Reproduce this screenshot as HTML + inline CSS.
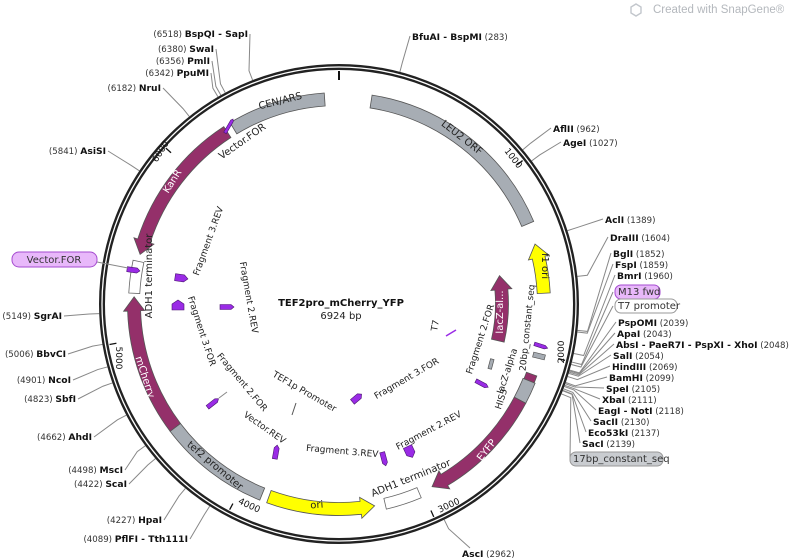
<!DOCTYPE html>
<html><head><meta charset="utf-8"><style>
html,body{margin:0;padding:0;background:#fff;}
svg{display:block;}
text{font-family:"DejaVu Sans","Liberation Sans",sans-serif;}
.en{font-size:9.2px;font-weight:bold;fill:#111;}
.nm{font-size:8.6px;font-weight:normal;fill:#333;}
.fl{font-size:10px;fill:#222;}
.il{font-size:9px;fill:#222;}
.wl{font-size:10px;fill:#fff;}
.tk{font-size:9px;fill:#111;}
</style></head><body>
<svg id="s" width="797" height="560" viewBox="0 0 797 560" xmlns="http://www.w3.org/2000/svg">
<g id="geo"></g>
<path d="M636,4 l5,3 v6 l-5,3 l-5,-3 v-6z" fill="none" stroke="#c2c6cc" stroke-width="1.4"/>
<text x="653" y="13" style="font-family:'Liberation Sans',sans-serif;font-size:11.5px;fill:#b4b8bd">Created with SnapGene®</text>

<circle cx="339" cy="304" r="237" fill="none" stroke="#222" stroke-width="6"/>
<circle cx="339" cy="304" r="237" fill="none" stroke="#fff" stroke-width="1.3"/>

<g id="feat"></g>

<g fill="#9a2be6" stroke="#4a1670" stroke-width="0.6">
<g transform="translate(229,126) rotate(-60)"><path d="M-8,-1.5 L6,-1.5 L8,0 L6,1.5 L-8,1.5Z"/></g>
<g transform="translate(133,270) rotate(8)"><path d="M-6,-2.5 L4,-2.5 L7,0 L4,2.5 L-6,2.5Z"/></g>
<g transform="translate(181,278) rotate(8)"><path d="M-6,-3.5 L3,-3.5 L7,0 L3,3.5 L-6,3.5Z"/></g>
<g transform="translate(178,305) rotate(-90)"><path d="M-5,-6 L1,-6 L5,0 L1,6 L-5,6Z"/></g>
<g transform="translate(227,307) rotate(0)"><path d="M-7,-2.5 L4,-2.5 L7,0 L4,2.5 L-7,2.5Z"/></g>
<g transform="translate(213,403) rotate(-38)"><path d="M-7,-2.2 L4,-2.2 L7,0 L4,2.2 L-7,2.2Z"/></g>
<g transform="translate(276,452) rotate(-80)"><path d="M-7,-2.5 L4,-2.5 L7,0 L4,2.5 L-7,2.5Z"/></g>
<g transform="translate(384,459) rotate(75)"><path d="M-7,-2.5 L4,-2.5 L7,0 L4,2.5 L-7,2.5Z"/></g>
<g transform="translate(410,452) rotate(65)"><path d="M-6,-4.5 L2,-4.5 L6,0 L2,4.5 L-6,4.5Z"/></g>
<g transform="translate(482,384) rotate(28)"><path d="M-7,-2 L4,-2 L7,0 L4,2 L-7,2Z"/></g>
<g transform="translate(541,346) rotate(18)"><path d="M-7,-1.8 L4,-1.8 L7,0 L4,1.8 L-7,1.8Z"/></g>
<g transform="translate(357,398) rotate(-40)"><path d="M-6,-3 L3,-3 L6,0 L3,3 L-6,3Z"/></g>
</g>
<line x1="446" y1="336" x2="456" y2="330" stroke="#9a2be6" stroke-width="1.5"/>
<line x1="219" y1="398" x2="227" y2="392" stroke="#888" stroke-width="1"/>
<line x1="296" y1="403" x2="292" y2="415" stroke="#555" stroke-width="1"/>
<g fill="#a6acb3" stroke="#555" stroke-width="0.7">
<rect x="-6" y="-2.5" width="12" height="5" transform="translate(539,356) rotate(14)"/>
<rect x="-5" y="-1.8" width="10" height="3.6" transform="translate(491,364) rotate(-75)"/>
</g>

<text class="fl" transform="translate(281,104) rotate(-14)" text-anchor="middle">CEN/ARS</text>
<text class="fl" transform="translate(460,140) rotate(38)" text-anchor="middle">LEU2 ORF</text>
<text class="fl" transform="translate(542,266) rotate(90)" text-anchor="middle">f1 ori</text>
<text class="wl" transform="translate(503,312) rotate(-90)" text-anchor="middle">lacZ-al...</text>
<text class="wl" transform="translate(489,452) rotate(-52)" text-anchor="middle">EYFP</text>
<text class="fl" transform="translate(412,481) rotate(-22)" text-anchor="middle">ADH1 terminator</text>
<text class="fl" transform="translate(317,508) rotate(-4)" text-anchor="middle">ori</text>
<text class="fl" transform="translate(213,468) rotate(40)" text-anchor="middle">tef2 promoter</text>
<text class="wl" transform="translate(142,378) rotate(72)" text-anchor="middle">mCherry</text>
<text class="fl" transform="translate(152,276) rotate(-90)" text-anchor="middle">ADH1 terminator</text>
<text class="wl" transform="translate(175,183) rotate(-58)" text-anchor="middle">KanR</text>
<text class="fl" transform="translate(244,144) rotate(-35)" text-anchor="middle">Vector.FOR</text>
<text class="il" transform="translate(211,242) rotate(-70)" text-anchor="middle">Fragment 3.REV</text>
<text class="il" transform="translate(246,298) rotate(80)" text-anchor="middle">Fragment 2.REV</text>
<text class="il" transform="translate(199,332) rotate(72)" text-anchor="middle">Fragment 3.FOR</text>
<text class="il" transform="translate(240,384) rotate(50)" text-anchor="middle">Fragment 2.FOR</text>
<text class="il" transform="translate(263,430) rotate(35)" text-anchor="middle">Vector.REV</text>
<text class="il" transform="translate(303,394) rotate(30)" text-anchor="middle">TEF1p Promoter</text>
<text class="il" transform="translate(342,454) rotate(5)" text-anchor="middle">Fragment 3.REV</text>
<text class="il" transform="translate(408,381) rotate(-30)" text-anchor="middle">Fragment 3.FOR</text>
<text class="il" transform="translate(430,433) rotate(-28)" text-anchor="middle">Fragment 2.REV</text>
<text class="il" transform="translate(438,326) rotate(-80)" text-anchor="middle">T7</text>
<text class="il" transform="translate(483,340) rotate(-72)" text-anchor="middle">Fragment 2.FOR</text>
<text class="il" transform="translate(510,372) rotate(-72)" text-anchor="middle">lacZ-alpha</text>
<text class="il" transform="translate(504,400) rotate(-72)" text-anchor="middle">HIS3</text>
<text class="il" transform="translate(530,328) rotate(-84)" text-anchor="middle">20bp_constant_seq</text>

<text class="tk" transform="translate(511,160) rotate(52)" text-anchor="middle">1000</text>
<text class="tk" transform="translate(564,352) rotate(-90)" text-anchor="middle">2000</text>
<text class="tk" transform="translate(450,508) rotate(-25)" text-anchor="middle">3000</text>
<text class="tk" transform="translate(248,508) rotate(25)" text-anchor="middle">4000</text>
<text class="tk" transform="translate(116,358) rotate(90)" text-anchor="middle">5000</text>
<text class="tk" transform="translate(163,153) rotate(-58)" text-anchor="middle">6000</text>

<text x="341" y="306" text-anchor="middle" style="font-size:10px;font-weight:bold;fill:#111">TEF2pro_mCherry_YFP</text>
<text x="341" y="319" text-anchor="middle" style="font-size:10px;fill:#222">6924 bp</text>

<text x="248" y="37" text-anchor="end"><tspan class="nm">(6518)  </tspan><tspan class="en">BspQI - SapI</tspan></text>
<text x="214" y="52" text-anchor="end"><tspan class="nm">(6380)  </tspan><tspan class="en">SwaI</tspan></text>
<text x="210" y="64" text-anchor="end"><tspan class="nm">(6356)  </tspan><tspan class="en">PmlI</tspan></text>
<text x="209" y="76" text-anchor="end"><tspan class="nm">(6342)  </tspan><tspan class="en">PpuMI</tspan></text>
<text x="161" y="91" text-anchor="end"><tspan class="nm">(6182)  </tspan><tspan class="en">NruI</tspan></text>
<text x="106" y="154" text-anchor="end"><tspan class="nm">(5841)  </tspan><tspan class="en">AsiSI</tspan></text>
<text x="62" y="319" text-anchor="end"><tspan class="nm">(5149)  </tspan><tspan class="en">SgrAI</tspan></text>
<text x="66" y="357" text-anchor="end"><tspan class="nm">(5006)  </tspan><tspan class="en">BbvCI</tspan></text>
<text x="71" y="383" text-anchor="end"><tspan class="nm">(4901)  </tspan><tspan class="en">NcoI</tspan></text>
<text x="76" y="402" text-anchor="end"><tspan class="nm">(4823)  </tspan><tspan class="en">SbfI</tspan></text>
<text x="92" y="440" text-anchor="end"><tspan class="nm">(4662)  </tspan><tspan class="en">AhdI</tspan></text>
<text x="123" y="473" text-anchor="end"><tspan class="nm">(4498)  </tspan><tspan class="en">MscI</tspan></text>
<text x="127" y="487" text-anchor="end"><tspan class="nm">(4422)  </tspan><tspan class="en">ScaI</tspan></text>
<text x="162" y="523" text-anchor="end"><tspan class="nm">(4227)  </tspan><tspan class="en">HpaI</tspan></text>
<text x="188" y="542" text-anchor="end"><tspan class="nm">(4089)  </tspan><tspan class="en">PflFI - Tth111I</tspan></text>
<line x1="97" y1="262" x2="128" y2="268" stroke="#888" stroke-width="1"/>
<rect x="12" y="252" width="85" height="15" rx="7" fill="#e8b8fa" stroke="#a54bd0"/>
<text x="54" y="263" text-anchor="middle" style="font-size:10px;fill:#333">Vector.FOR</text>

<text x="412" y="40"><tspan class="en">BfuAI - BspMI</tspan><tspan class="nm">  (283)</tspan></text>
<text x="553" y="132"><tspan class="en">AflII</tspan><tspan class="nm">  (962)</tspan></text>
<text x="563" y="146"><tspan class="en">AgeI</tspan><tspan class="nm">  (1027)</tspan></text>
<text x="605" y="223"><tspan class="en">AclI</tspan><tspan class="nm">  (1389)</tspan></text>
<text x="610" y="241"><tspan class="en">DraIII</tspan><tspan class="nm">  (1604)</tspan></text>
<text x="613" y="257"><tspan class="en">BglI</tspan><tspan class="nm">  (1852)</tspan></text>
<text x="615" y="268"><tspan class="en">FspI</tspan><tspan class="nm">  (1859)</tspan></text>
<text x="617" y="279"><tspan class="en">BmrI</tspan><tspan class="nm">  (1960)</tspan></text>
<rect x="615" y="285" width="45" height="14" rx="6" fill="#e8b8fa" stroke="#a54bd0"/>
<text x="618" y="295" style="font-size:10px;fill:#333">M13 fwd</text>
<rect x="615" y="299" width="62" height="14" rx="6" fill="#fff" stroke="#999"/>
<text x="618" y="309" style="font-size:10px;fill:#333">T7 promoter</text>
<text x="618" y="326"><tspan class="en">PspOMI</tspan><tspan class="nm">  (2039)</tspan></text>
<text x="617" y="337"><tspan class="en">ApaI</tspan><tspan class="nm">  (2043)</tspan></text>
<text x="616" y="348"><tspan class="en">AbsI - PaeR7I - PspXI - XhoI</tspan><tspan class="nm">  (2048)</tspan></text>
<text x="613" y="359"><tspan class="en">SalI</tspan><tspan class="nm">  (2054)</tspan></text>
<text x="612" y="370"><tspan class="en">HindIII</tspan><tspan class="nm">  (2069)</tspan></text>
<text x="609" y="381"><tspan class="en">BamHI</tspan><tspan class="nm">  (2099)</tspan></text>
<text x="606" y="392"><tspan class="en">SpeI</tspan><tspan class="nm">  (2105)</tspan></text>
<text x="602" y="403"><tspan class="en">XbaI</tspan><tspan class="nm">  (2111)</tspan></text>
<text x="598" y="414"><tspan class="en">EagI - NotI</tspan><tspan class="nm">  (2118)</tspan></text>
<text x="593" y="425"><tspan class="en">SacII</tspan><tspan class="nm">  (2130)</tspan></text>
<text x="588" y="436"><tspan class="en">Eco53kI</tspan><tspan class="nm">  (2137)</tspan></text>
<text x="582" y="447"><tspan class="en">SacI</tspan><tspan class="nm">  (2139)</tspan></text>
<rect x="570" y="452" width="93" height="14" rx="6" fill="#c9ccd0" stroke="#999"/>
<text x="573" y="462" style="font-size:10px;fill:#333">17bp_constant_seq</text>
<text x="462" y="557"><tspan class="en">AscI</tspan><tspan class="nm">  (2962)</tspan></text>
</svg>
<script>
(function(){
var NS="http://www.w3.org/2000/svg",cx=339,cy=304;
function pt(a,r){var t=a*Math.PI/180;return [cx+r*Math.sin(t),cy-r*Math.cos(t)];}
function P(p){return p[0].toFixed(2)+","+p[1].toFixed(2);}
function add(g,tag,at){var e=document.createElementNS(NS,tag);for(var k in at)e.setAttribute(k,at[k]);document.getElementById(g).appendChild(e);return e;}
function band(a1,a2,r,w,fill,head,stroke){
 var ro=r+w/2,ri=r-w/2,ho=ro+4,hi=ri-4,hl=14/r*180/Math.PI,d;
 if(head==="a2"){var b=a2-hl;
  d="M"+P(pt(a1,ro))+" A"+ro+","+ro+" 0 0 1 "+P(pt(b,ro))+" L"+P(pt(b,ho))+" L"+P(pt(a2,r))+" L"+P(pt(b,hi))+" L"+P(pt(b,ri))+" A"+ri+","+ri+" 0 0 0 "+P(pt(a1,ri))+"Z";
 }else if(head==="a1"){var b=a1+hl;
  d="M"+P(pt(a1,r))+" L"+P(pt(b,ho))+" L"+P(pt(b,ro))+" A"+ro+","+ro+" 0 0 1 "+P(pt(a2,ro))+" L"+P(pt(a2,ri))+" A"+ri+","+ri+" 0 0 0 "+P(pt(b,ri))+" L"+P(pt(b,hi))+"Z";
 }else{
  d="M"+P(pt(a1,ro))+" A"+ro+","+ro+" 0 0 1 "+P(pt(a2,ro))+" L"+P(pt(a2,ri))+" A"+ri+","+ri+" 0 0 0 "+P(pt(a1,ri))+"Z";
 }
 add("feat","path",{d:d,fill:fill,stroke:stroke||"#555","stroke-width":"0.8"});
}
var MG="#94306a",GR="#a7adb4",YE="#ffff00";
band(-31,-4,205,13,GR);
band(9,67,205,13,GR);
band(73,87,205,13,YE,"a1");
band(80,103,163,13,MG,"a1");
band(110,112,205,11,MG);
band(112,118,205,13,GR);
band(118,153,205,13,MG,"a2");
band(157,167,205,11,"#fff",null,"#666");
band(170,200,205,13,YE,"a1");
band(202,233,205,13,GR);
band(233,272,205,13,MG,"a2");
band(273,282,205,11,"#fff",null,"#666");
band(284,327,205,13,MG,"a1");
[0,52,104,156,208,260,312].forEach(function(a,i){var p1=pt(a,i?226:224),p2=pt(a,233);
 add("geo","line",{x1:p1[0],y1:p1[1],x2:p2[0],y2:p2[1],stroke:"#111","stroke-width":i?1.3:2});});
var L=[[14.7,410,36],[50,551,128],[53.4,561,142],[72.2,603,219],[83.4,608,237],[96.3,611,253],[96.7,613,264],[101.9,615,275],
[104,613,292],[104.6,613,306],[106,616,322],[106.2,615,333],[106.5,614,344],[106.8,611,355],[107.6,610,366],[109.1,607,377],[109.4,604,388],
[109.8,600,399],[110.1,596,410],[110.7,591,421],[111.1,586,432],[111.2,580,443],[112,570,459],[154,470,548],
[212.6,190,539],[219.8,164,520],[229.9,129,484],[233.8,125,470],[242.4,94,437],[250.8,78,399],[254.8,73,380],[260.3,68,354],[267.7,64,316],
[303.7,108,151],[321.4,163,88],[329.7,211,73],[330.5,212,61],[331.7,216,49],[338.9,250,34]];
L.forEach(function(l){var a=l[0],p1=pt(a,240),p2=pt(a,250);
 add("geo","polyline",{points:P(p1)+" "+P(p2)+" "+l[1]+","+l[2],fill:"none",stroke:"#888","stroke-width":"1"});});
})();
</script>
</body></html>
